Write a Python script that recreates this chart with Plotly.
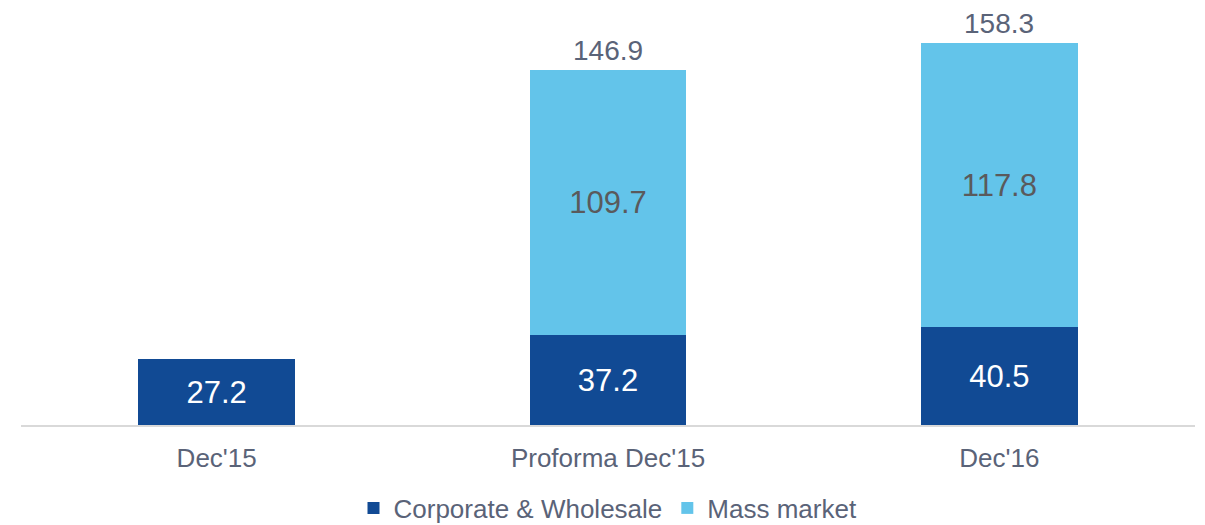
import plotly.graph_objects as go

categories = ["Dec'15", "Proforma Dec'15", "Dec'16"]
corporate = [27.2, 37.2, 40.5]
mass_market = [None, 109.7, 117.8]
totals = [None, 146.9, 158.3]

DARK = "#114A94"
LIGHT = "#63C4EA"
TXT = "#5A6378"
GRAY = "#5A5A5C"
FONT = "Arial, Liberation Sans, sans-serif"

fig = go.Figure()
fig.add_trace(go.Bar(
    x=categories, y=corporate, name="Corporate & Wholesale",
    marker=dict(color=DARK, line=dict(width=0)),
    text=[f"{v:.1f}" for v in corporate], textposition="inside",
    insidetextanchor="middle", textangle=0, constraintext="none",
    insidetextfont=dict(color="white", size=31, family=FONT),
    hoverinfo="skip",
))
fig.add_trace(go.Bar(
    x=categories, y=mass_market, name="Mass market",
    marker=dict(color=LIGHT, line=dict(width=0)),
    text=[f"{v:.1f}" if v is not None else "" for v in mass_market],
    textposition="inside", insidetextanchor="middle", textangle=0, constraintext="none",
    insidetextfont=dict(color=GRAY, size=31, family=FONT),
    hoverinfo="skip",
))

for cat, tot in zip(categories, totals):
    if tot is None:
        continue
    fig.add_annotation(
        x=cat, y=tot, text=f"{tot:.1f}", showarrow=False,
        yanchor="bottom", yshift=2,
        font=dict(color=TXT, size=28, family=FONT),
    )

fig.update_layout(
    width=1205, height=525,
    barmode="stack", bargap=0.6,
    margin=dict(l=21, r=10, t=0, b=100, autoexpand=False),
    paper_bgcolor="white", plot_bgcolor="white",
    font=dict(family=FONT, color=TXT, size=26),
    showlegend=True,
    legend=dict(orientation="h", x=0.5, xanchor="center", y=-0.14, yanchor="top",
                font=dict(size=26, color=TXT, family=FONT), traceorder="normal",
                itemwidth=30),
    xaxis=dict(showline=True, linecolor="#D9D9D9", linewidth=2, showgrid=False,
               ticks="", ticklabelstandoff=9, tickfont=dict(size=26, color=TXT)),
    yaxis=dict(visible=False, range=[0, 176.1], showgrid=False, zeroline=False),
)

fig.write_html("out.html")
